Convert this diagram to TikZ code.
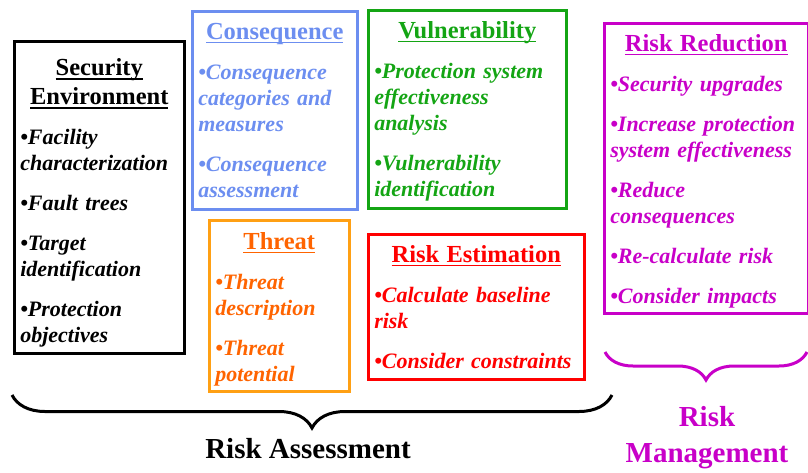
\documentclass[tikz,border=0pt]{standalone}
\usepackage{fontspec}
\setmainfont{Liberation Serif}
\usetikzlibrary{positioning,decorations.pathreplacing}

\definecolor{conblue}{RGB}{108,142,240}
\definecolor{vulgreen}{RGB}{20,165,20}
\definecolor{thrborder}{RGB}{255,160,20}
\definecolor{thrtext}{RGB}{255,100,0}
\definecolor{estred}{RGB}{255,0,0}
\definecolor{redmag}{RGB}{200,0,200}

\newsavebox{\ulbox}
\newcommand{\uln}[1]{\sbox{\ulbox}{#1}\leavevmode\rlap{\rule[-4pt]{\wd\ulbox}{1.6pt}}\usebox{\ulbox}}
\newcommand{\ttl}[1]{{\upshape\fontsize{24.5}{29}\selectfont\centering#1\par}}
\newcommand{\itm}[1]{\par\vspace{14pt}\textbullet#1}
\newcommand{\pad}[1]{\rule{0pt}{#1}}

\begin{document}
\begin{tikzpicture}[x=1pt,y=-1pt]
        \tikzstyle{box}=[rectangle, draw, line width=2.5pt, anchor=north west, inner xsep=6pt, align=left, font=\bfseries\itshape\fontsize{22}{26}\selectfont]
        \tikzstyle{brace}=[decorate, line width=3pt]
        \tikzstyle{label}=[font=\bfseries\fontsize{29}{36}\selectfont, align=center]
        \useasboundingbox (0,0) rectangle (808,472);

        % Security Environment
        \node (env) [box, minimum width=170, minimum height=312, text width=158] at (13,40)
          {\ttl{\pad{29pt}\uln{Security}\\\uln{Environment}}
           \itm{Facility\\characterization}
           \itm{Fault trees}
           \itm{Target\\identification}
           \itm{Protection\\objectives}};

        % Consequence
        \node (con) [box, draw=conblue, text=conblue, minimum width=165, minimum height=198, text width=153] at (191,10)
          {\ttl{\uln{Consequence}}
           \itm{Consequence\\categories and\\measures}
           \itm{Consequence\\assessment}};

        % Threat
        \node (thr) [box, draw=thrborder, text=thrtext, minimum width=140, minimum height=171, text width=128] at (208,219)
          {\ttl{\pad{24pt}\uln{Threat}}
           \itm{Threat\\description}
           \itm{Threat\\potential}};

        % Vulnerability
        \node (vul) [box, draw=vulgreen, text=vulgreen, minimum width=198, minimum height=198, text width=186] at (367,9)
          {\ttl{\pad{21pt}\uln{Vulnerability}}
           \itm{Protection system\\effectiveness\\analysis}
           \itm{Vulnerability\\identification}};

        % Risk Estimation
        \node (est) [box, draw=estred, text=estred, minimum width=216, minimum height=145, text width=204] at (367,233)
          {\ttl{\uln{Risk Estimation}}
           \itm{Calculate baseline\\risk}
           \itm{Consider constraints}};

        % Risk Reduction
        \node (rred) [box, draw=redmag, text=redmag, minimum width=204, minimum height=290, text width=192] at (603,22)
          {\ttl{\pad{23pt}\uln{Risk Reduction}}
           \itm{Security upgrades}
           \itm{Increase protection\\system effectiveness}
           \itm{Reduce\\consequences}
           \itm{Re-calculate risk}
           \itm{Consider impacts}};

        % Braces
        \coordinate (asl) at (12,395);
        \coordinate (asr) at (612,395);
        \coordinate (mgl) at (605,352);
        \coordinate (mgr) at (807,352);
        \draw[brace, decoration={brace, mirror, amplitude=33pt}] (asl) -- (asr);
        \draw[brace, redmag, decoration={brace, mirror, amplitude=28pt}] (mgl) -- (mgr);

        % Labels
        \node (ra) [label] at (308,449) {Risk Assessment};
        \node (rm) [label, text=redmag] at (707,438) {Risk\\Management};
    \end{tikzpicture}
\end{document}
